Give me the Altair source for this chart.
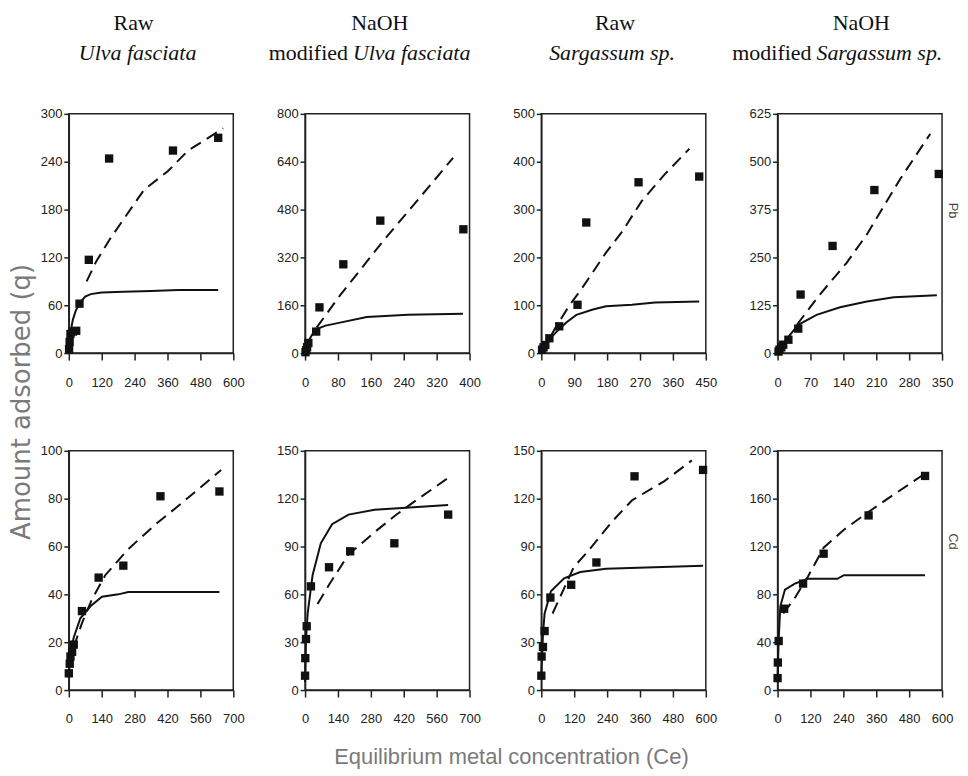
import altair as alt
import pandas as pd

# ---------------- data ----------------
# Panel 1: Raw Ulva fasciata, Pb
p1_pts_x = [1, 3, 6, 15, 27, 39, 73, 147, 380, 545]
p1_pts_y = [5, 14, 24, 27, 28, 62, 117, 244, 254, 270]
p1_lang_x = [0, 3, 8, 15, 25, 40, 60, 80, 120, 200, 300, 400, 545]
p1_lang_y = [0, 15, 30, 42, 53, 63, 71, 74, 76, 77, 78, 79, 79]
p1_fr_x = [65, 100, 150, 200, 275, 361, 435, 500, 563]
p1_fr_y = [90, 115, 143, 168, 205, 228, 254, 268, 282]
p1_xticks = [0, 120, 240, 360, 480, 600]
p1_yticks = [0, 60, 120, 180, 240, 300]

# Panel 2: NaOH modified Ulva fasciata, Pb
p2_pts_x = [1, 3, 5, 8, 27, 35, 93, 183, 385]
p2_pts_y = [3, 10, 20, 34, 72, 153, 297, 443, 414]
p2_lang_x = [0, 5, 10, 20, 28, 50, 85, 150, 250, 384]
p2_lang_y = [0, 25, 45, 68, 80, 92, 102, 121, 128, 132]
p2_fr_x = [28, 85, 190, 263, 360]
p2_fr_y = [85, 193, 375, 494, 653]
p2_xticks = [0, 80, 160, 240, 320, 400]
p2_yticks = [0, 160, 320, 480, 640, 800]

# Panel 3: Raw Sargassum sp., Pb
p3_pts_x = [2, 6, 11, 22, 49, 99, 123, 266, 432]
p3_pts_y = [7, 12, 17, 31, 56, 101, 273, 357, 369]
p3_lang_x = [0, 10, 20, 42, 70, 96, 141, 177, 248, 311, 432]
p3_lang_y = [0, 15, 27, 45, 65, 80, 91, 98, 101, 106, 108]
p3_fr_x = [2, 40, 78, 109, 177, 222, 275, 338, 405]
p3_fr_y = [3, 55, 101, 133, 210, 255, 318, 374, 427]
p3_xticks = [0, 90, 180, 270, 360, 450]
p3_yticks = [0, 100, 200, 300, 400, 500]

# Panel 4: NaOH modified Sargassum sp., Pb
p4_pts_x = [2, 4, 8, 12, 23, 44, 49, 117, 206, 343]
p4_pts_y = [4, 9, 15, 22, 35, 64, 153, 280, 426, 468]
p4_lang_x = [0, 10, 20, 44, 83, 133, 190, 247, 339]
p4_lang_y = [0, 20, 38, 74, 100, 120, 135, 146, 151]
p4_fr_x = [41, 90, 147, 190, 261, 325]
p4_fr_y = [74, 153, 236, 310, 455, 573]
p4_xticks = [0, 70, 140, 210, 280, 350]
p4_yticks = [0, 125, 250, 375, 500, 625]

# Panel 5: Raw Ulva fasciata, Cd
p5_pts_x = [0, 4, 7, 14, 21, 56, 127, 232, 390, 641]
p5_pts_y = [7, 11, 14, 16, 19, 33, 47, 52, 81, 83]
p5_lang_x = [0, 4, 10, 21, 49, 92, 141, 211, 253, 641]
p5_lang_y = [5, 12, 17, 22, 30, 35, 39, 40, 41, 41]
p5_fr_x = [21, 56, 99, 155, 254, 366, 479, 648]
p5_fr_y = [18, 28, 38, 48, 59, 69, 78, 92]
p5_xticks = [0, 140, 280, 420, 560, 700]
p5_yticks = [0, 20, 40, 60, 80, 100]

# Panel 6: NaOH modified Ulva fasciata, Cd
p6_pts_x = [0, 1, 4, 7, 25, 102, 192, 380, 609]
p6_pts_y = [9, 20, 32, 40, 65, 77, 87, 92, 110]
p6_lang_x = [0, 4, 11, 32, 67, 115, 185, 296, 609]
p6_lang_y = [5, 32, 48, 72, 92, 104, 110, 113, 116]
p6_fr_x = [53, 102, 185, 296, 380, 463, 609]
p6_fr_y = [54, 66, 85, 99, 109, 118, 133]
p6_xticks = [0, 140, 280, 420, 560, 700]
p6_yticks = [0, 30, 60, 90, 120, 150]

# Panel 7: Raw Sargassum sp., Cd
p7_pts_x = [0, 1, 6, 12, 33, 109, 201, 340, 590]
p7_pts_y = [9, 21, 27, 37, 58, 66, 80, 134, 138]
p7_lang_x = [0, 6, 12, 35, 83, 142, 236, 590]
p7_lang_y = [10, 35, 48, 62, 70, 74, 76, 78]
p7_fr_x = [41, 89, 118, 165, 260, 331, 449, 549]
p7_fr_y = [48, 66, 77, 86, 106, 119, 131, 144]
p7_xticks = [0, 120, 240, 360, 480, 600]
p7_yticks = [0, 30, 60, 90, 120, 150]

# Panel 8: NaOH modified Sargassum sp., Cd
p8_pts_x = [0, 1, 4, 24, 93, 168, 332, 538]
p8_pts_y = [10, 23, 41, 68, 89, 114, 146, 179]
p8_lang_x = [0, 4, 10, 27, 63, 111, 218, 242, 538]
p8_lang_y = [10, 42, 70, 84, 89, 93, 93, 96, 96]
p8_fr_x = [21, 63, 111, 168, 242, 326, 421, 538]
p8_fr_y = [64, 77, 95, 119, 134, 148, 163, 181]
p8_xticks = [0, 120, 240, 360, 480, 600]
p8_yticks = [0, 40, 80, 120, 160, 200]

col_line1 = ["Raw", "NaOH", "Raw", "NaOH"]
col_prefix = ["", "modified", "", "modified"]
col_species = ["Ulva fasciata", "Ulva fasciata", "Sargassum sp.", "Sargassum sp."]
row_labels = ["Pb", "Cd"]
y_title = "Amount adsorbed (q)"
x_title = "Equilibrium metal concentration (Ce)"

# ---------------- styling ----------------
W, H = 165, 240
FONT_NUM = "Liberation Sans, Arial, sans-serif"
FONT_SERIF = "Liberation Serif, DejaVu Serif, serif"
INK = "#111111"


def txt(s, x, y, size, font, style="normal", align="center", angle=0, color=INK, weight="normal"):
    return alt.Chart(pd.DataFrame({"t": [s]})).mark_text(
        font=font, fontSize=size, fontStyle=style, fontWeight=weight, align=align,
        baseline="middle", angle=angle, color=color
    ).encode(x=alt.value(x), y=alt.value(y), text="t:N")


def make_panel(px, py, lx, ly, fx, fy, xticks, yticks, texts):
    xsc = alt.Scale(domain=[xticks[0], xticks[-1]], nice=False)
    ysc = alt.Scale(domain=[yticks[0], yticks[-1]], nice=False)
    xenc = alt.X("x:Q", scale=xsc, title=None,
                 axis=alt.Axis(values=xticks, tickSize=7, labelPadding=16, format="d",
                               labelOverlap=False, labelFlush=False))
    yenc = alt.Y("y:Q", scale=ysc, title=None,
                 axis=alt.Axis(values=yticks, tickSize=5, labelPadding=2, format="d",
                               labelOverlap=False, labelFlush=False))
    fr = alt.Chart(pd.DataFrame({"x": fx, "y": fy})).mark_line(
        color=INK, strokeWidth=2, strokeDash=[12, 7]).encode(x=xenc, y=yenc)
    la = alt.Chart(pd.DataFrame({"x": lx, "y": ly})).mark_line(
        color=INK, strokeWidth=2).encode(x=xenc, y=yenc)
    pt = alt.Chart(pd.DataFrame({"x": px, "y": py})).mark_square(
        size=70, color=INK, opacity=1).encode(x=xenc, y=yenc)
    return alt.layer(fr, la, pt, *texts).properties(width=W, height=H)


def col_title(i, c1, c2, split=None):
    out = [txt(col_line1[i], c1, -91, 22, FONT_SERIF)]
    if col_prefix[i]:
        out.append(txt(col_prefix[i], split - 2, -61, 22, FONT_SERIF, align="right"))
        out.append(txt(col_species[i], split + 3, -61, 22, FONT_SERIF, style="italic", align="left"))
    else:
        out.append(txt(col_species[i], c2, -61, 22, FONT_SERIF, style="italic"))
    return out


panels = [
    make_panel(p1_pts_x, p1_pts_y, p1_lang_x, p1_lang_y, p1_fr_x, p1_fr_y, p1_xticks, p1_yticks,
               col_title(0, 65, 69)),
    make_panel(p2_pts_x, p2_pts_y, p2_lang_x, p2_lang_y, p2_fr_x, p2_fr_y, p2_xticks, p2_yticks,
               col_title(1, 75, 75, split=45)),
    make_panel(p3_pts_x, p3_pts_y, p3_lang_x, p3_lang_y, p3_fr_x, p3_fr_y, p3_xticks, p3_yticks,
               col_title(2, 74, 71)),
    make_panel(p4_pts_x, p4_pts_y, p4_lang_x, p4_lang_y, p4_fr_x, p4_fr_y, p4_xticks, p4_yticks,
               col_title(3, 84, 84, split=36)
               + [txt(row_labels[0], 176, 97, 13, "Liberation Sans, sans-serif", angle=90, color="#444")]),
    make_panel(p5_pts_x, p5_pts_y, p5_lang_x, p5_lang_y, p5_fr_x, p5_fr_y, p5_xticks, p5_yticks,
               [txt(y_title, -47, -49, 26, "DejaVu Sans, sans-serif", angle=270, color="#7a7a7a")]),
    make_panel(p6_pts_x, p6_pts_y, p6_lang_x, p6_lang_y, p6_fr_x, p6_fr_y, p6_xticks, p6_yticks,
               [txt(x_title, 207, 307, 22, FONT_NUM, color="#7a7a7a")]),
    make_panel(p7_pts_x, p7_pts_y, p7_lang_x, p7_lang_y, p7_fr_x, p7_fr_y, p7_xticks, p7_yticks, []),
    make_panel(p8_pts_x, p8_pts_y, p8_lang_x, p8_lang_y, p8_fr_x, p8_fr_y, p8_xticks, p8_yticks,
               [txt(row_labels[1], 176, 91, 13, "Liberation Sans, sans-serif", angle=90, color="#444")]),
]

chart = alt.concat(
    *panels, columns=4, spacing={"row": 98, "column": 72}, bounds="flush"
).properties(
    padding={"left": 0, "top": 2, "right": 0, "bottom": 0}
).configure_view(
    stroke="#222222", strokeWidth=1.5
).configure_axis(
    grid=False, domainColor="#222222", domainWidth=1.5, tickColor="#222222", tickWidth=1.5,
    labelFont=FONT_NUM, labelFontSize=13, labelColor="#222222"
)

chart.save("out.html", embed_options={"renderer": "svg", "actions": False})
